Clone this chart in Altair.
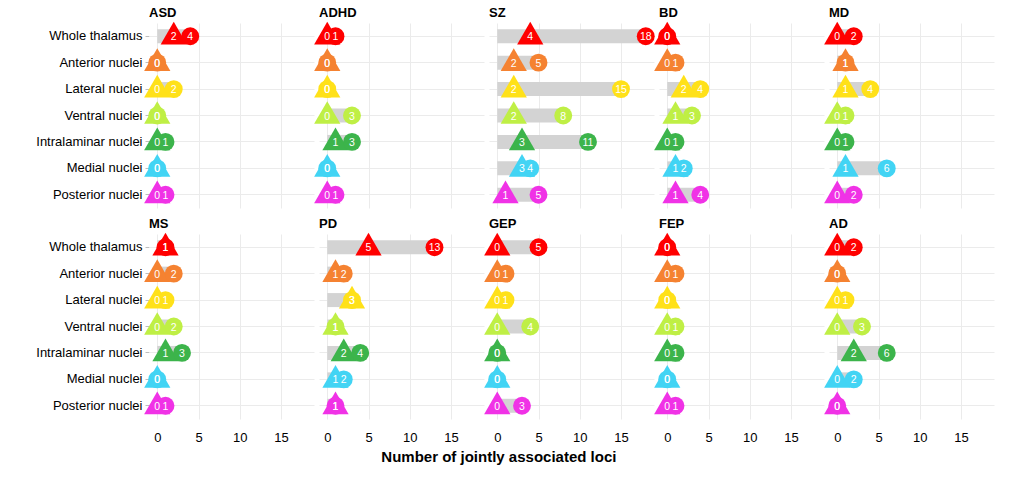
import altair as alt
import pandas as pd

diseases = ["ASD", "ADHD", "SZ", "BD", "MD", "MS", "PD", "GEP", "FEP", "AD"]
regions = ["Whole thalamus", "Anterior nuclei", "Lateral nuclei", "Ventral nuclei",
           "Intralaminar nuclei", "Medial nuclei", "Posterior nuclei"]
region_colors = ["#FF0000", "#F58231", "#FFE119", "#BFEF45", "#3CB44B", "#42D4F4", "#F032E6"]

# triangle = lower count, circle = upper count (per region, in the order above)
asd_tri = [2, 0, 0, 0, 0, 0, 0]
asd_circ = [4, 0, 2, 0, 1, 0, 1]
adhd_tri = [0, 0, 0, 0, 1, 0, 0]
adhd_circ = [1, 0, 0, 3, 3, 0, 1]
sz_tri = [4, 2, 2, 2, 3, 3, 1]
sz_circ = [18, 5, 15, 8, 11, 4, 5]
bd_tri = [0, 0, 2, 1, 0, 1, 1]
bd_circ = [0, 1, 4, 3, 1, 2, 4]
md_tri = [0, 1, 1, 0, 0, 1, 0]
md_circ = [2, 1, 4, 1, 1, 6, 2]
ms_tri = [1, 0, 0, 0, 1, 0, 0]
ms_circ = [1, 2, 1, 2, 3, 0, 1]
pd_tri = [5, 1, 3, 1, 2, 1, 1]
pd_circ = [13, 2, 3, 1, 4, 2, 1]
gep_tri = [0, 0, 0, 0, 0, 0, 0]
gep_circ = [5, 1, 1, 4, 0, 0, 3]
fep_tri = [0, 0, 0, 0, 0, 0, 0]
fep_circ = [0, 1, 0, 1, 1, 0, 1]
ad_tri = [0, 0, 0, 0, 2, 0, 0]
ad_circ = [2, 0, 1, 3, 6, 2, 0]

tri_lists = [asd_tri, adhd_tri, sz_tri, bd_tri, md_tri, ms_tri, pd_tri, gep_tri, fep_tri, ad_tri]
circ_lists = [asd_circ, adhd_circ, sz_circ, bd_circ, md_circ, ms_circ, pd_circ, gep_circ, fep_circ, ad_circ]

rows = []
for d, tl, cl in zip(diseases, tri_lists, circ_lists):
    for r, t, c in zip(regions, tl, cl):
        rows.append({"disease": d, "region": r, "tri": t, "circ": c, "zero": 0})
df = pd.DataFrame(rows)

FONT = "Liberation Sans"
xscale = alt.Scale(domain=[-1, 19], nice=False, zero=False)
yenc = alt.Y("region:N", sort=regions, title=None,
             scale=alt.Scale(paddingInner=0, paddingOuter=0))
color = alt.Color("region:N", scale=alt.Scale(domain=regions, range=region_colors), legend=None)
xaxis = alt.Axis(values=[0, 5, 10, 15], title=None)

bar = alt.Chart().mark_bar(color="#D3D3D3", size=14).encode(
    x=alt.X("zero:Q", scale=xscale, axis=xaxis), x2="circ:Q", y=yenc)

tri = alt.Chart().mark_point(shape="triangle-up", filled=True, size=690, opacity=1, yOffset=-3).encode(
    x=alt.X("tri:Q", scale=xscale, axis=xaxis), y=yenc, color=color)

circ = alt.Chart().mark_point(shape="circle", filled=True, size=320, opacity=1).encode(
    x=alt.X("circ:Q", scale=xscale, axis=xaxis), y=yenc, color=color)

tri_txt = alt.Chart().mark_text(color="white", fontSize=10.5, font=FONT, dy=1).encode(
    x=alt.X("tri:Q", scale=xscale, axis=xaxis), y=yenc, text="tri:Q")

circ_txt = alt.Chart().mark_text(color="white", fontSize=10.5, font=FONT, dy=1).encode(
    x=alt.X("circ:Q", scale=xscale, axis=xaxis), y=yenc, text="circ:Q")

layered = alt.layer(bar, tri, circ, tri_txt, circ_txt, data=df).properties(width=165, height=185)

chart = layered.facet(
    facet=alt.Facet("disease:N", sort=diseases,
                    header=alt.Header(title=None, labelAnchor="start", labelFontWeight="bold",
                                      labelFontSize=13, labelColor="black", labelFont=FONT,
                                      labelPadding=2)),
    columns=5,
    spacing={"row": 26, "column": 5},
    bounds="flush",
).properties(
    title=alt.TitleParams("Number of jointly associated loci", orient="bottom", anchor="middle",
                          fontSize=15, fontWeight="bold", font=FONT, color="black", offset=6, dx=-16),
    padding={"left": 35, "top": 6, "right": 5, "bottom": 5},
).configure_view(stroke=None).configure_axis(
    grid=True, gridColor="#EBEBEB", gridWidth=1, domain=False,
    tickColor="#BDBDBD", tickSize=4, labelFont=FONT, labelFontSize=13, labelColor="black",
    labelPadding=3,
).configure_axisX(labelPadding=12, tickSize=0)

chart.save("out.html", embed_options={"renderer": "svg", "actions": False})
